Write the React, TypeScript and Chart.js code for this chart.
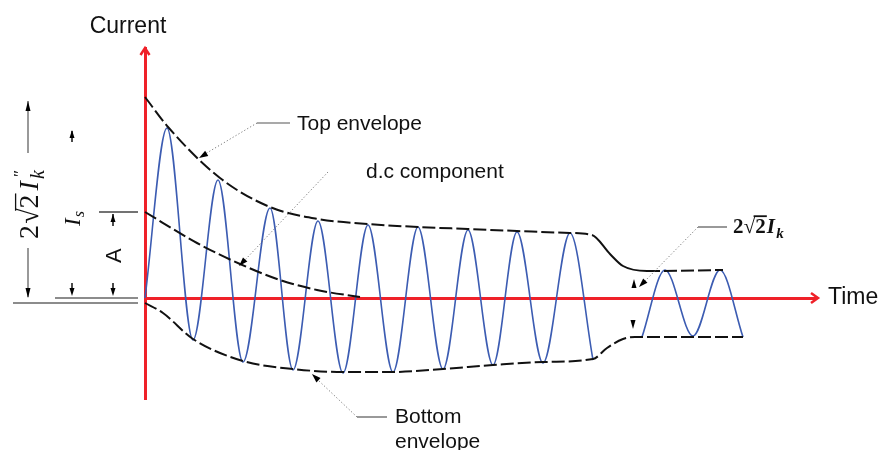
import React, { useEffect, useRef } from "react";
import { Chart, registerables } from "chart.js";

Chart.register(...registerables);

// Time in ms, current in kA
const waveTime1 = [0, 8.8, 19.2, 29.2, 39.2, 50.0, 59.2, 69.2, 79.2, 89.2, 99.2, 109.2, 119.2, 129.2, 139.2, 148.8, 159.2, 170.0, 179.2];
const waveCurrent1 = [0, 17.0, -4.2, 11.8, -6.4, 9.0, -7.2, 7.7, -7.5, 7.3, -7.4, 7.1, -7.1, 6.8, -6.7, 6.6, -6.5, 6.5, -6.2];
const waveTime2 = [198.8, 208.0, 219.2, 230.0, 239.2];
const waveCurrent2 = [-3.9, 2.8, -3.8, 2.8, -3.9];
const topEnvTime = [0, 9.2, 30, 50, 69.2, 89.2, 109.2, 129.2, 148.8, 170, 178.8, 186, 191.2, 200.8, 231.2];
const topEnvCurrent = [20.1, 17.1, 12.0, 9.1, 7.9, 7.4, 7.1, 6.9, 6.7, 6.5, 6.3, 4.4, 3.2, 2.7, 2.8];
const bottomEnvTime = [0, 7.2, 19.2, 39.2, 59.2, 79.2, 99.2, 119.2, 139.2, 159.2, 179.2, 184.8, 191.2, 196, 239.2];
const bottomEnvCurrent = [-0.5, -1.5, -4.1, -6.3, -7.1, -7.4, -7.4, -7.1, -6.7, -6.4, -6.1, -5.0, -4.1, -3.9, -3.9];
const dcTime = [0, 20.8, 38, 54, 68.8, 86];
const dcCurrent = [8.6, 5.5, 3.4, 1.8, 0.8, 0.1];
// decay-to-steady transition of the top envelope (drawn solid)
const transitionStart = 178.8;
const transitionEnd = 200.8;

const axisTitleX = "Time";
const axisTitleY = "Current";
const labelTop = "Top envelope";
const labelDc = "d.c component";
const labelBottom = ["Bottom", "envelope"];
const labelA = "A";

const pts = (xs: number[], ys: number[]) => xs.map((x, i) => ({ x, y: ys[i] }));

const RED = "#ef2129";
const BLUE = "#3c5cb2";
const SANS = '"Liberation Sans", Arial, sans-serif';
const SERIF = '"Liberation Serif", "Times New Roman", serif';

function arrowHead(ctx: CanvasRenderingContext2D, fx: number, fy: number, tx: number, ty: number, len = 9, hw = 3, color = "#000") {
  const a = Math.atan2(ty - fy, tx - fx);
  ctx.save();
  ctx.fillStyle = color;
  ctx.beginPath();
  ctx.moveTo(tx, ty);
  ctx.lineTo(tx - len * Math.cos(a) + hw * Math.sin(a), ty - len * Math.sin(a) - hw * Math.cos(a));
  ctx.lineTo(tx - len * Math.cos(a) - hw * Math.sin(a), ty - len * Math.sin(a) + hw * Math.cos(a));
  ctx.closePath();
  ctx.fill();
  ctx.restore();
}

function line(ctx: CanvasRenderingContext2D, x1: number, y1: number, x2: number, y2: number, color: string, w: number, dash: number[] = []) {
  ctx.save();
  ctx.strokeStyle = color;
  ctx.lineWidth = w;
  ctx.setLineDash(dash);
  ctx.beginPath();
  ctx.moveTo(x1, y1);
  ctx.lineTo(x2, y2);
  ctx.stroke();
  ctx.restore();
}

// draws 2√2 I_k (+ optional ″) with baseline at (0,0) going along +x
function formula(ctx: CanvasRenderingContext2D, size: number, bold: boolean, primes: boolean, gap: number) {
  const b = bold ? "bold " : "";
  let x = 0;
  ctx.textBaseline = "alphabetic";
  ctx.textAlign = "left";
  ctx.fillStyle = "#111";
  ctx.font = `${b}${size}px ${SERIF}`;
  ctx.fillText("2", x, 0);
  x += ctx.measureText("2").width + gap * 0.3;
  const rx = x;
  ctx.fillText("\u221A", x, 0);
  const wr = ctx.measureText("\u221A").width;
  x += wr;
  ctx.fillText("2", x, 0);
  x += ctx.measureText("2").width;
  ctx.save();
  ctx.strokeStyle = "#111";
  ctx.lineWidth = bold ? 1.8 : 1.3;
  ctx.beginPath();
  ctx.moveTo(rx + wr * 0.85, -size * 0.8);
  ctx.lineTo(x + 1, -size * 0.8);
  ctx.stroke();
  ctx.restore();
  x += gap;
  ctx.font = `${b}italic ${size}px ${SERIF}`;
  ctx.fillText("I", x, 0);
  x += ctx.measureText("I").width + 1 + gap * 0.3;
  ctx.font = `${b}italic ${Math.round(size * 0.7)}px ${SERIF}`;
  ctx.fillText("k", x, size * 0.22);
  if (primes) {
    ctx.font = `${Math.round(size * 0.6)}px ${SERIF}`;
    ctx.fillText("\u2033", x + 2, -size * 0.45);
  }
}

const annotPlugin = {
  id: "annot",
  afterDraw(chart: any) {
    const ctx: CanvasRenderingContext2D = chart.ctx;
    const xs = chart.scales.x;
    const ys = chart.scales.y;
    const x0 = xs.getPixelForValue(0);
    const y0 = ys.getPixelForValue(0);
    ctx.save();

    // axis arrow chevrons
    ctx.strokeStyle = RED;
    ctx.lineWidth = 2.5;
    ctx.beginPath();
    ctx.moveTo(x0 - 4.5, chart.chartArea.top + 7);
    ctx.lineTo(x0, chart.chartArea.top);
    ctx.lineTo(x0 + 4.5, chart.chartArea.top + 7);
    ctx.stroke();
    ctx.beginPath();
    ctx.moveTo(chart.chartArea.right - 4, y0 - 5);
    ctx.lineTo(chart.chartArea.right + 3, y0);
    ctx.lineTo(chart.chartArea.right - 4, y0 + 5);
    ctx.stroke();

    // axis titles
    ctx.fillStyle = "#111";
    ctx.font = `23px ${SANS}`;
    ctx.textAlign = "center";
    ctx.textBaseline = "alphabetic";
    ctx.fillText(axisTitleY, 128, 33);
    ctx.textAlign = "left";
    ctx.fillText(axisTitleX, 828, 304);

    // callout labels
    ctx.font = `21px ${SANS}`;
    ctx.fillText(labelTop, 297, 130);
    ctx.fillText(labelDc, 366, 178);
    ctx.fillText(labelBottom[0], 395, 423);
    ctx.fillText(labelBottom[1], 395, 448);

    // leaders
    const dot = [1.2, 2.2];
    line(ctx, 257, 123, 290, 123, "#555", 1.2);
    line(ctx, 257, 123, 205, 154, "#777", 1, dot);
    arrowHead(ctx, 257, 123, 199, 158);
    line(ctx, 328, 172, 244, 261, "#777", 1, dot);
    arrowHead(ctx, 328, 172, 239, 266);
    line(ctx, 357, 417, 387, 417, "#555", 1.2);
    line(ctx, 357, 417, 318, 380, "#777", 1, dot);
    arrowHead(ctx, 357, 417, 312, 374);
    line(ctx, 698, 227, 727, 227, "#555", 1.2);
    line(ctx, 698, 227, 644, 282, "#777", 1, dot);
    arrowHead(ctx, 698, 227, 639, 287);
    arrowHead(ctx, 634, 290, 634, 279, 9, 2.5);
    arrowHead(ctx, 633, 319, 633, 329, 9, 2.5);

    // right formula
    ctx.save();
    ctx.translate(733, 233);
    formula(ctx, 21, true, false, 1);
    ctx.restore();

    // left dimension lines
    line(ctx, 13, 303, 138, 303, "#666", 1.4);
    line(ctx, 55, 298, 138, 298, "#666", 1.4);
    line(ctx, 99, 212, 138, 212, "#444", 1.4);
    line(ctx, 28, 101, 28, 153, "#555", 1.2);
    line(ctx, 28, 248, 28, 297, "#555", 1.2);
    arrowHead(ctx, 28, 115, 28, 101, 10, 2.5);
    arrowHead(ctx, 28, 285, 28, 298, 10, 2.5);
    // I_s arrows
    line(ctx, 72, 131, 72, 142, "#111", 1.5);
    arrowHead(ctx, 72, 142, 72, 130, 8, 2.5);
    line(ctx, 72, 283, 72, 290, "#111", 1.5);
    arrowHead(ctx, 72, 283, 72, 296, 8, 2.5);
    // A arrows
    line(ctx, 113, 214, 113, 226, "#111", 1.5);
    arrowHead(ctx, 113, 226, 113, 214, 8, 2.5);
    line(ctx, 113, 283, 113, 290, "#111", 1.5);
    arrowHead(ctx, 113, 283, 113, 296, 8, 2.5);

    // rotated left labels
    ctx.save();
    ctx.translate(38, 239);
    ctx.rotate(-Math.PI / 2);
    formula(ctx, 28, false, true, 4);
    ctx.restore();

    ctx.save();
    ctx.translate(80, 226);
    ctx.rotate(-Math.PI / 2);
    ctx.fillStyle = "#111";
    ctx.font = `italic 23px ${SERIF}`;
    ctx.fillText("I", 0, 0);
    const wI = ctx.measureText("I").width;
    ctx.font = `italic 16px ${SERIF}`;
    ctx.fillText("s", wI + 1, 4);
    ctx.restore();

    ctx.save();
    ctx.translate(121, 263);
    ctx.rotate(-Math.PI / 2);
    ctx.fillStyle = "#111";
    ctx.font = `22px ${SANS}`;
    ctx.fillText(labelA, 0, 0);
    ctx.restore();

    ctx.restore();
  },
};

export default function App() {
  const ref = useRef<HTMLCanvasElement | null>(null);
  useEffect(() => {
    document.body.style.margin = "0";
    const envStyle = {
      borderColor: "#111",
      borderWidth: 2,
      borderDash: [13, 4],
      pointRadius: 0,
      cubicInterpolationMode: "monotone" as const,
      clip: false as any,
      fill: false,
    };
    const chart = new Chart(ref.current as HTMLCanvasElement, {
      type: "line",
      data: {
        datasets: [
          {
            label: "Top envelope",
            data: pts(topEnvTime, topEnvCurrent),
            ...envStyle,
            segment: {
              borderDash: (c: any) =>
                c.p0.parsed.x >= transitionStart && c.p1.parsed.x <= transitionEnd ? [] : undefined,
            },
          },
          { label: "Bottom envelope", data: pts(bottomEnvTime, bottomEnvCurrent), ...envStyle },
          { label: "d.c component", data: pts(dcTime, dcCurrent), ...envStyle },
          {
            label: "Current",
            data: pts(waveTime1, waveCurrent1),
            borderColor: BLUE,
            borderWidth: 1.6,
            pointRadius: 0,
            cubicInterpolationMode: "monotone",
            clip: false as any,
          },
          {
            label: "Current (steady)",
            data: pts(waveTime2, waveCurrent2),
            borderColor: BLUE,
            borderWidth: 1.6,
            pointRadius: 0,
            cubicInterpolationMode: "monotone",
            clip: false as any,
          },
        ],
      },
      options: {
        responsive: false,
        animation: false,
        layout: { padding: { left: 145, top: 48, right: 66, bottom: 51 } },
        plugins: { legend: { display: false }, tooltip: { enabled: false } },
        scales: {
          x: {
            type: "linear",
            min: 0,
            max: 268,
            position: { y: 0 } as any,
            z: 1,
            grid: { display: false, drawTicks: false },
            ticks: { display: false },
            border: { display: true, color: RED, width: 3 },
          },
          y: {
            type: "linear",
            min: -10.1,
            max: 25.0,
            position: { x: 0 } as any,
            z: 1,
            grid: { display: false, drawTicks: false },
            ticks: { display: false },
            border: { display: true, color: RED, width: 3 },
          },
        },
      },
      plugins: [annotPlugin],
    });
    return () => chart.destroy();
  }, []);
  return (
    <canvas
      ref={ref}
      width={881}
      height={450}
      style={{ position: "absolute", left: 0, top: 0, width: 881, height: 450 }}
    />
  );
}
